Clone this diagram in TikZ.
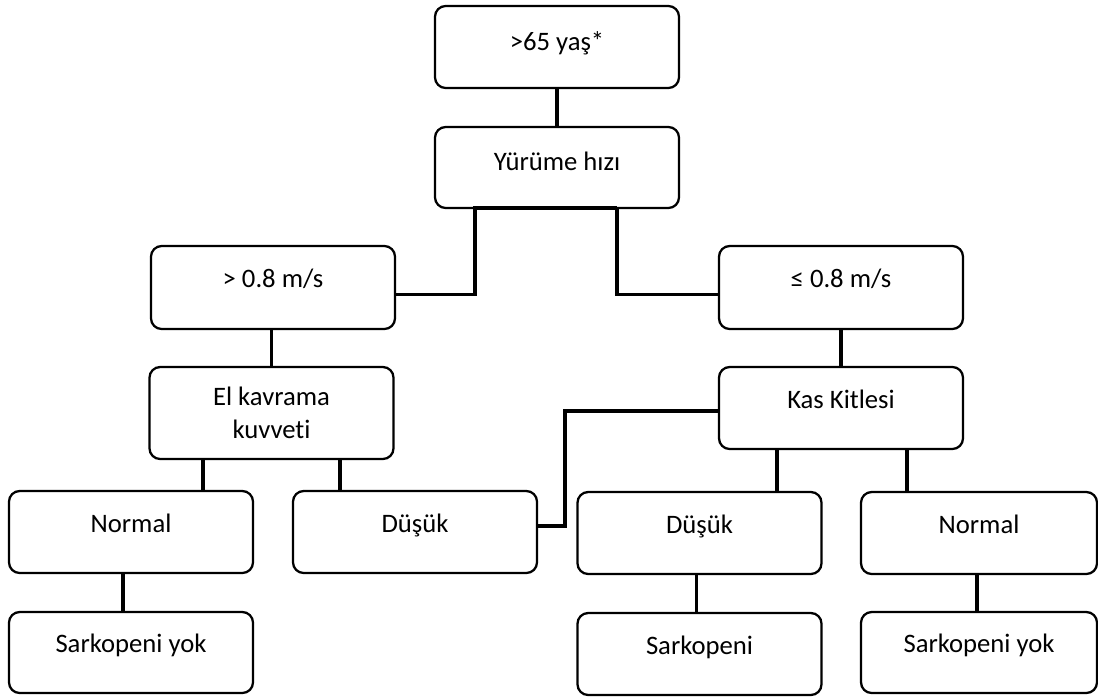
\documentclass[tikz,border=0pt]{standalone}
\usepackage{fontspec}
\setmainfont[Ligatures=NoCommon]{Carlito}
\usetikzlibrary{calc}
\begin{document}
\begin{tikzpicture}[x=0.75pt,y=-0.75pt,
  box/.style={draw=black, line width=1.7pt, rounded corners=8pt, fill=white,
    minimum width=183pt, minimum height=61.5pt, inner sep=0pt,
    text height=10pt, text depth=10pt, align=center,
    font=\fontsize{20}{25}\selectfont},
  lowtext/.style={text height=12pt, text depth=7.5pt},
  conn/.style={draw=black, line width=2.4pt}]
\useasboundingbox (0,0) rectangle (1098,697);
% boxes
\node[box, lowtext] (top)  at (557,47)    {>65 yaş*};
\node[box, lowtext, minimum height=60.75pt] (walk) at (557,167.5) {Yürüme hızı};
\node[box, minimum height=62.25pt] (fast) at (273,287.5) {> 0.8 m/s};
\node[box, minimum height=62.25pt] (slow) at (841,287.5) {≤ 0.8 m/s};
\node[box, minimum height=69pt, text height=, text depth=] (grip) at (271.5,413) {El kavrama\\kuvveti};
\node[box] (mass) at (841,408)   {Kas Kitlesi};
\node[box] (n1)   at (131,532)   {Normal};
\node[box] (d1)   at (415,532)   {Düşük};
\node[box] (d2)   at (699.5,533) {Düşük};
\node[box, minimum width=177pt] (n2) at (979,533) {Normal};
\node[box, minimum height=60.75pt] (s1) at (131,652.5) {Sarkopeni yok};
\node[box] (s2)   at (699.5,654) {Sarkopeni};
\node[box, minimum width=177pt, minimum height=60.75pt] (s3) at (979,652.5) {Sarkopeni yok};
% connectors
\draw[conn] (top.south) -- (walk.north);
\coordinate (wl) at (475,208);
\coordinate (wr) at (617,208);
\draw[conn] (wr) -- (wl) |- ([yshift=-5pt]fast.east);
\draw[conn] (wr) |- ([yshift=-5pt]slow.west);
\draw[conn] ([xshift=-1pt]fast.south) -- ([xshift=-1pt]fast.south |- grip.north);
\draw[conn] ([xshift=-51.4pt]grip.south) -- ([xshift=-51.4pt]grip.south |- n1.north);
\draw[conn] ([xshift=51.4pt]grip.south) -- ([xshift=51.4pt]grip.south |- d1.north);
\draw[conn] (slow.south) -- (mass.north);
\draw[conn] ([xshift=-48pt]mass.south) -- ([xshift=-48pt]mass.south |- d2.north);
\draw[conn] ([xshift=49.5pt]mass.south) -- ([xshift=49.5pt]mass.south |- n2.north);
\coordinate (kb) at (565,411);
\draw[conn] (mass.west |- kb) -- (kb) |- ([yshift=4.5pt]d1.east);
\draw[conn] ([xshift=-6pt]n1.south) -- ([xshift=-6pt]n1.south |- s1.north);
\draw[conn] ([xshift=-2pt]d2.south) -- ([xshift=-2pt]d2.south |- s2.north);
\draw[conn] ([xshift=-1.5pt]n2.south) -- ([xshift=-1.5pt]n2.south |- s3.north);
\end{tikzpicture}
\end{document}
